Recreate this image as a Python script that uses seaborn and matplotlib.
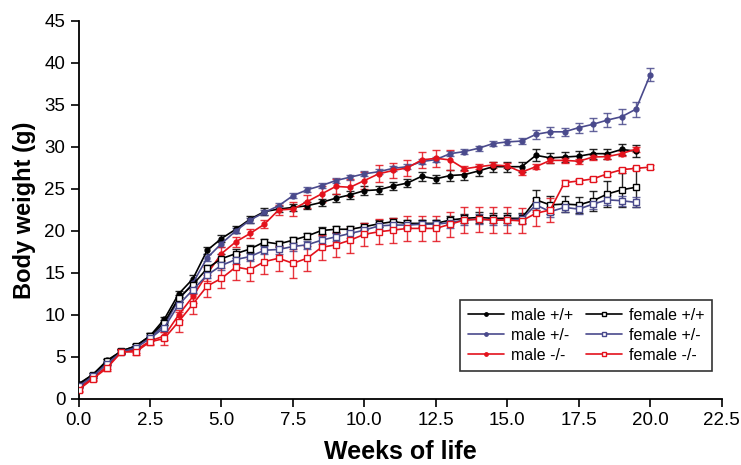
import numpy as np
import pandas as pd
import matplotlib
matplotlib.use("Agg")
import matplotlib.pyplot as plt
import seaborn as sns

weeks = [i * 0.5 for i in range(41)]

male_wt = [1.8, 2.9, 4.6, 5.7, 6.3, 7.5, 9.5, 12.5, 14.3, 17.7, 19.1, 20.2, 21.4, 22.3, 22.6, 22.8,
           23.0, 23.4, 23.9, 24.3, 24.8, 24.9, 25.35, 25.7, 26.5, 26.2, 26.6, 26.7, 27.15, 27.65,
           27.65, 27.65, 29.0, 28.7, 28.8, 28.9, 29.2, 29.2, 29.7, 29.5]
male_het = [1.6, 2.7, 4.3, 5.6, 6.1, 7.3, 8.8, 11.8, 13.8, 16.8, 18.5, 20.0, 21.3, 22.2, 23.0, 24.2,
            24.9, 25.4, 26.0, 26.4, 26.8, 27.05, 27.45, 27.65, 28.25, 28.5, 29.2, 29.45, 29.85, 30.4,
            30.6, 30.7, 31.5, 31.8, 31.8, 32.3, 32.7, 33.2, 33.6, 34.5, 38.6]
male_ko = [1.3, 2.5, 3.9, 5.6, 5.8, 6.9, 7.5, 10.0, 12.2, 14.9, 17.3, 18.7, 19.7, 20.8, 22.5, 22.6,
           23.5, 24.4, 25.3, 25.2, 26.0, 26.8, 27.2, 27.5, 28.45, 28.65, 28.45, 27.4, 27.65, 27.85,
           27.75, 27.0, 27.65, 28.4, 28.4, 28.3, 28.8, 28.85, 29.2, 29.75]
female_wt = [1.7, 2.9, 4.5, 5.7, 6.3, 7.5, 9.1, 12.0, 13.6, 15.55, 16.7, 17.3, 17.85, 18.7, 18.45,
             18.9, 19.4, 20.05, 20.2, 20.2, 20.5, 20.85, 21.1, 20.9, 20.9, 20.9, 21.3, 21.5, 21.6,
             21.5, 21.5, 21.5, 23.7, 23.1, 23.2, 23.1, 23.6, 24.4, 24.9, 25.2]
female_het = [1.5, 2.7, 4.2, 5.6, 6.1, 7.2, 8.5, 11.2, 13.0, 14.75, 15.9, 16.6, 16.95, 17.7, 17.8,
              18.15, 18.35, 18.9, 19.3, 19.7, 20.1, 20.6, 20.7, 20.7, 20.8, 20.8, 21.0, 21.3, 21.4,
              21.3, 21.3, 21.4, 23.1, 22.3, 22.8, 22.6, 23.2, 23.7, 23.6, 23.4]
female_ko = [1.1, 2.4, 3.7, 5.6, 5.6, 6.8, 7.2, 9.2, 11.3, 13.45, 14.35, 15.7, 15.4, 16.35, 16.75,
             16.15, 16.75, 18.05, 18.35, 18.9, 19.6, 19.9, 20.1, 20.3, 20.3, 20.3, 20.8, 21.3, 21.4,
             21.3, 21.3, 21.2, 22.1, 22.5, 25.75, 25.95, 26.2, 26.8, 27.3, 27.45, 27.6]

male_wt_err = [0.2, 0.2, 0.2, 0.2, 0.2, 0.3, 0.3, 0.4, 0.4, 0.4, 0.4, 0.4, 0.4, 0.4, 0.4, 0.4, 0.4,
               0.4, 0.5, 0.5, 0.5, 0.5, 0.5, 0.5, 0.5, 0.5, 0.6, 0.6, 0.6, 0.6, 0.6, 0.6, 0.7, 0.6,
               0.6, 0.6, 0.6, 0.6, 0.6, 0.7]
male_het_err = [0.2, 0.2, 0.2, 0.2, 0.2, 0.3, 0.3, 0.3, 0.4, 0.4, 0.4, 0.3, 0.3, 0.3, 0.3, 0.3, 0.3,
                0.3, 0.3, 0.3, 0.3, 0.3, 0.3, 0.3, 0.3, 0.3, 0.3, 0.3, 0.3, 0.3, 0.4, 0.4, 0.5, 0.6,
                0.5, 0.6, 0.8, 0.8, 0.9, 0.9, 0.8]
male_ko_err = [0.3, 0.3, 0.3, 0.3, 0.3, 0.3, 0.5, 0.6, 0.8, 0.8, 0.8, 0.6, 0.5, 0.5, 0.6, 0.8, 0.8,
               0.9, 0.9, 1.0, 1.0, 1.0, 0.9, 0.9, 1.0, 1.0, 1.2, 0.3, 0.3, 0.3, 0.3, 0.3, 0.3, 0.3,
               0.3, 0.3, 0.3, 0.3, 0.3, 0.3]
female_wt_err = [0.2, 0.2, 0.2, 0.2, 0.2, 0.3, 0.3, 0.4, 0.4, 0.4, 0.5, 0.5, 0.5, 0.4, 0.4, 0.4, 0.4,
                 0.4, 0.4, 0.4, 0.4, 0.4, 0.4, 0.4, 0.4, 0.4, 0.5, 0.5, 0.6, 0.6, 0.6, 0.6, 1.2, 1.1,
                 1.0, 1.0, 1.2, 1.6, 2.0, 2.3]
female_het_err = [0.2, 0.2, 0.2, 0.2, 0.2, 0.3, 0.3, 0.4, 0.4, 0.4, 0.5, 0.5, 0.5, 0.5, 0.5, 0.5,
                  0.5, 0.5, 0.5, 0.5, 0.5, 0.5, 0.5, 0.5, 0.5, 0.5, 0.6, 0.6, 0.6, 0.6, 0.6, 0.6,
                  0.8, 0.6, 0.5, 0.6, 0.6, 0.6, 0.6, 0.6]
female_ko_err = [0.3, 0.3, 0.4, 0.3, 0.4, 0.4, 0.8, 1.2, 1.2, 1.3, 1.2, 1.5, 1.3, 1.5, 1.5, 1.7,
                 1.5, 1.5, 1.5, 1.5, 1.4, 1.5, 1.5, 1.5, 1.5, 1.5, 1.5, 1.5, 1.5, 1.5, 1.5, 1.5,
                 1.5, 1.4, 0.3, 0.2, 0.2, 0.2, 0.2, 0.2, 0.2]

labels = ["male +/+", "male +/-", "male -/-", "female +/+", "female +/-", "female -/-"]

sns.set_style("ticks")
plt.rcParams["font.family"] = ["Liberation Sans", "DejaVu Sans"]

black = "#000000"
blue = "#4a4a8c"
red = "#e3121c"

series = [
    (labels[0], male_wt, male_wt_err, black, "o", True),
    (labels[1], male_het, male_het_err, blue, "o", True),
    (labels[2], male_ko, male_ko_err, red, "o", True),
    (labels[3], female_wt, female_wt_err, black, "s", False),
    (labels[4], female_het, female_het_err, blue, "s", False),
    (labels[5], female_ko, female_ko_err, red, "s", False),
]

fig, ax = plt.subplots(figsize=(7.41, 4.65), dpi=100)
fig.subplots_adjust(left=0.106, right=0.974, top=0.955, bottom=0.142)

for name, vals, err, col, mk, filled in series:
    x = weeks[:len(vals)]
    ax.errorbar(x, vals, yerr=err, fmt="none", ecolor=col, elinewidth=1.0,
                capsize=3, capthick=1.0, alpha=0.85, zorder=2)
    sns.lineplot(x=x, y=vals, ax=ax, color=col, marker=mk, linewidth=1.2,
                 markersize=3.5 if filled else 5,
                 markerfacecolor=col if filled else "white",
                 markeredgecolor=col, markeredgewidth=1.0,
                 label=name, zorder=3)

ax.set_xlim(0, 22.5)
ax.set_ylim(0, 45)
ax.set_xticks(np.arange(0, 22.6, 2.5))
ax.set_xticklabels([f"{t:.1f}" for t in np.arange(0, 22.6, 2.5)])
ax.set_yticks(range(0, 46, 5))
ax.tick_params(axis="both", direction="out", length=6, width=1.2, labelsize=13.5,
               colors="black", labelcolor="black")
for s in ["left", "bottom"]:
    ax.spines[s].set_linewidth(1.3)
    ax.spines[s].set_color("black")
sns.despine(ax=ax)

ax.set_xlabel("Weeks of life", fontsize=18, fontweight="bold", labelpad=8, color="black")
ax.set_ylabel("Body weight (g)", fontsize=17, fontweight="bold", labelpad=6, color="black")

h, l = ax.get_legend_handles_labels()
leg = ax.legend(h, l, ncol=2, loc="upper left", bbox_to_anchor=(0.58, 0.283),
                fontsize=11.5, frameon=True, fancybox=False, edgecolor="black",
                handlelength=2.3, columnspacing=0.8, labelspacing=0.3, borderpad=0.5,
                handletextpad=0.4, markerscale=0.7)
leg.get_frame().set_linewidth(1.2)
for t in leg.get_texts():
    t.set_color("black")

fig.savefig("out.png", dpi=100)
